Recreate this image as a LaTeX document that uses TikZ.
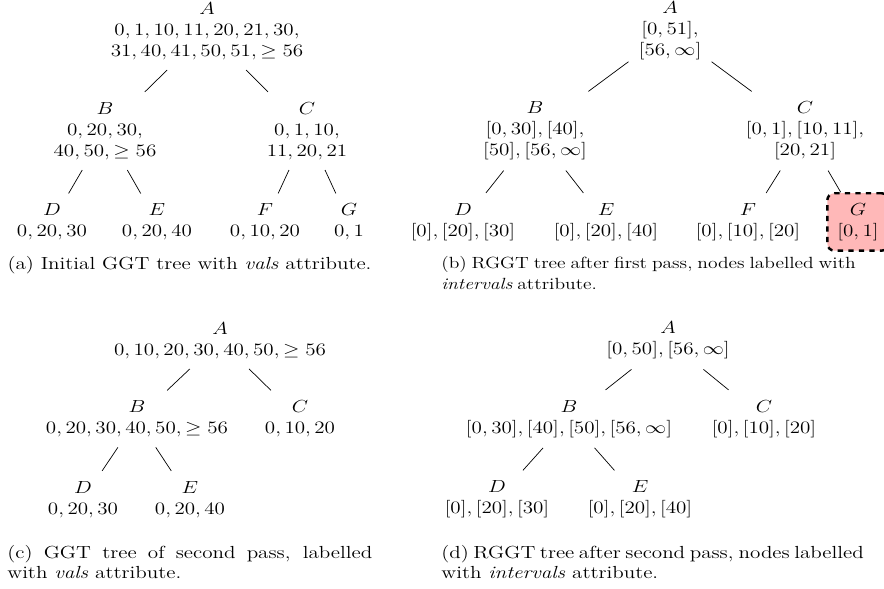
\documentclass[tikz,border=0pt]{standalone}
\usepackage{amsmath}

\begin{document}
\begin{tikzpicture}[
    x=0.02cm, y=-0.0241cm, yscale=0.83, % one unit is one pixel of the layout
    every node/.style={transform shape},
    tnode/.style={align=center, inner xsep=0.2cm, inner ysep=0.24cm,
        font=\fontsize{12}{14.5}\selectfont},
    changed/.style={draw=black, dashed, line width=1.4pt, rounded corners=4pt, fill=red!28},
    subcap/.style={anchor=north west, inner sep=0pt, align=justify,
        font=\fontsize{12}{13.8}\selectfont}
]
    \useasboundingbox (0,0) rectangle (884,589);

    % (a) initial GGT tree
    \node[tnode] (aA) at (207,31) {$A$\\ $0, 1, 10, 11, 20, 21, 30,$\\ $31, 40, 41, 50, 51, \geq 56$};
    \node[tnode] (aB) at (105,131) {$B$\\ $0, 20, 30,$\\ $40, 50, \geq 56$};
    \node[tnode] (aC) at (307,131) {$C$\\ $0, 1, 10,$\\ $11, 20, 21$};
    \node[tnode] (aD) at (52,222) {$D$\\ $0, 20, 30$};
    \node[tnode] (aE) at (157,222) {$E$\\ $0, 20, 40$};
    \node[tnode] (aF) at (265,222) {$F$\\ $0, 10, 20$};
    \node[tnode] (aG) at (349,222) {$G$\\ $0, 1$};
    \draw (aA) -- (aB) (aA) -- (aC)
          (aB) -- (aD) (aB) -- (aE)
          (aC) -- (aF) (aC) -- (aG);

    % (b) RGGT tree, first pass
    \node[tnode] (bA) at (670,31) {$A$\\ $[0, 51],$\\ $[56, \infty]$};
    \node[tnode] (bB) at (535,131) {$B$\\ $[0, 30], [40],$\\ $[50], [56, \infty]$};
    \node[tnode] (bC) at (805,131) {$C$\\ $[0, 1], [10, 11],$\\ $[20, 21]$};
    \node[tnode] (bD) at (463,222) {$D$\\ $[0], [20], [30]$};
    \node[tnode] (bE) at (606,222) {$E$\\ $[0], [20], [40]$};
    \node[tnode] (bF) at (748,222) {$F$\\ $[0], [10], [20]$};
    \node[tnode, changed] (bG) at (858,222) {$G$\\ $[0, 1]$};
    \draw (bA) -- (bB) (bA) -- (bC)
          (bB) -- (bD) (bB) -- (bE)
          (bC) -- (bF) (bC) -- (bG);

    % (c) GGT tree, second pass
    \node[tnode] (cA) at (220,340.5) {$A$\\ $0, 10, 20, 30, 40, 50, \geq 56$};
    \node[tnode] (cB) at (137,419) {$B$\\ $0, 20, 30, 40, 50, \geq 56$};
    \node[tnode] (cC) at (300,419) {$C$\\ $0, 10, 20$};
    \node[tnode] (cD) at (83,499.5) {$D$\\ $0, 20, 30$};
    \node[tnode] (cE) at (190,499.5) {$E$\\ $0, 20, 40$};
    \draw (cA) -- (cB) (cA) -- (cC)
          (cB) -- (cD) (cB) -- (cE);

    % (d) RGGT tree, second pass
    \node[tnode] (dA) at (668,340.5) {$A$\\ $[0, 50], [56, \infty]$};
    \node[tnode] (dB) at (569,419) {$B$\\ $[0, 30], [40], [50], [56, \infty]$};
    \node[tnode] (dC) at (764,419) {$C$\\ $[0], [10], [20]$};
    \node[tnode] (dD) at (497,499.5) {$D$\\ $[0], [20], [30]$};
    \node[tnode] (dE) at (640,499.5) {$E$\\ $[0], [20], [40]$};
    \draw (dA) -- (dB) (dA) -- (dC)
          (dB) -- (dD) (dB) -- (dE);

    % captions
    \node[subcap, anchor=north, align=center] (capa) at (189.5,256)
        {(a) Initial GGT tree with \emph{vals} attribute.};
    \node[subcap, align=left, font={\fontsize{11.1}{14.5}\selectfont\spaceskip=0.25em\relax}] (capb) at (441,256)
        {(b) RGGT tree after first pass, nodes labelled with\\ \emph{intervals} attribute.};
    \node[subcap, text width=7.3cm] (capc) at (7,545)
        {(c) GGT tree of second pass, labelled with \emph{vals} attribute.};
    \node[subcap, text width=8.45cm] (capd) at (441,545)
        {(d) RGGT tree after second pass, nodes labelled with \emph{intervals} attribute.};
\end{tikzpicture}
\end{document}
